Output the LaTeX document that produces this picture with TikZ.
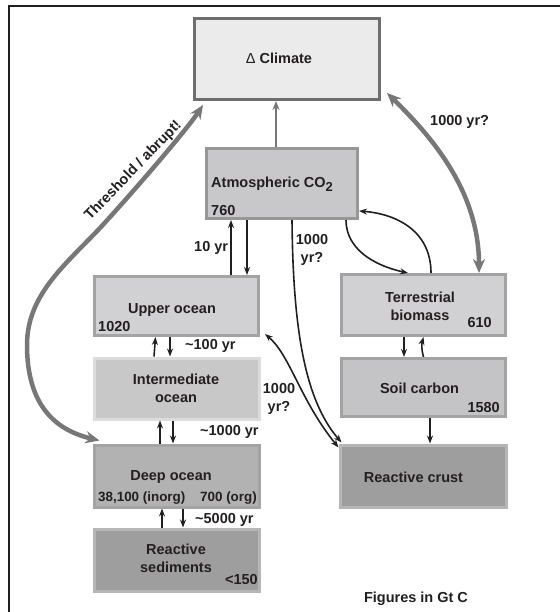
\documentclass[tikz,border=0pt]{standalone}
\usepackage{fontspec}
\setmainfont{Liberation Sans}
\usetikzlibrary{arrows.meta}
\definecolor{ink}{HTML}{231F20}
\definecolor{flowgray}{HTML}{777777}
\definecolor{climfill}{HTML}{EBEBEB}
\definecolor{climdraw}{HTML}{6E6E6E}
\definecolor{atmfill}{HTML}{C8C8CA}
\definecolor{atmdraw}{HTML}{979797}
\definecolor{upfill}{HTML}{D1D1D3}
\definecolor{updraw}{HTML}{A3A3A3}
\definecolor{interfill}{HTML}{C8C8C8}
\definecolor{interdraw}{HTML}{DCDCDC}
\definecolor{deepfill}{HTML}{B2B2B2}
\definecolor{deepdraw}{HTML}{A4A4A4}
\definecolor{soilfill}{HTML}{C4C4C6}
\definecolor{darkfill}{HTML}{9E9E9E}
\definecolor{darkdraw}{HTML}{B6B6B6}
\newcommand{\cotwo}{CO\raisebox{-4pt}{\fontsize{13}{13}\selectfont 2}}

\begin{document}
\begin{tikzpicture}[x=1pt,y=-1pt,>={Stealth[length=8pt,width=6pt]},
    box/.style={draw, line width=3pt, inner sep=0pt},
    lbl/.style={text=ink, font=\bfseries\fontsize{14.5}{18}\selectfont, inner sep=0pt, align=center},
    small/.style={lbl, font=\bfseries\fontsize{13.4}{16}\selectfont},
    flow/.style={draw=ink, line width=1.6pt, ->},
    bigtip/.tip={Stealth[length=14pt,width=12pt]},
    bigflow/.style={draw=flowgray, line width=4.5pt, bigtip-bigtip}]

    \useasboundingbox (0,0) rectangle (559,612);
    \draw[ink, line width=2.5pt] (562,6) -- (9,6) -- (9,615);

    \node[box, draw=climdraw, fill=climfill, minimum width=185pt, minimum height=81pt] (clim) at (287,59) {};
    \node[box, draw=atmdraw, fill=atmfill, minimum width=151pt, minimum height=70pt] (atm) at (282,183.5) {};
    \node[box, draw=updraw, fill=upfill, minimum width=164pt, minimum height=59pt] (upper) at (176.5,306) {};
    \node[box, draw=interdraw, fill=interfill, minimum width=165pt, minimum height=61pt] (inter) at (176.5,388.5) {};
    \node[box, draw=deepdraw, fill=deepfill, minimum width=165pt, minimum height=62pt] (deep) at (176.5,476) {};
    \node[box, draw=darkdraw, fill=darkfill, minimum width=165pt, minimum height=62pt] (sedi) at (176.5,560) {};
    \node[box, draw=updraw, fill=upfill, minimum width=164pt, minimum height=61pt] (terr) at (423.5,305) {};
    \node[box, draw=updraw, fill=soilfill, minimum width=164pt, minimum height=58pt] (soil) at (423.5,387.5) {};
    \node[box, draw=darkdraw, fill=darkfill, minimum width=166pt, minimum height=62pt] (crust) at (423,476) {};

    \node[lbl, anchor=base] (climlbl) at (279,64) {{\mdseries Δ} Climate};
    \node[lbl, anchor=base west] (atmlbl) at (211,188) {Atmospheric \cotwo};
    \node[lbl, anchor=base west] (atmval) at (211,215) {760};
    \node[lbl, anchor=base] (uplbl) at (172,313) {Upper ocean};
    \node[lbl, anchor=base west] (upval) at (98,331) {1020};
    \node[lbl, anchor=base] (interlbl) at (176,402) {Intermediate\\ocean};
    \node[lbl, anchor=base] (deeplbl) at (171,480) {Deep ocean};
    \node[small, anchor=base west] (deepinorg) at (98,501) {38,100 (inorg)};
    \node[small, anchor=base east] (deeporg) at (257,501) {700 (org)};
    \node[lbl, anchor=base] (sedilbl) at (176,572) {Reactive\\sediments};
    \node[lbl, anchor=base east] (sedival) at (258,584) {<150};
    \node[lbl, anchor=base] (terrlbl) at (420,320) {Terrestrial\\biomass};
    \node[lbl, anchor=base east] (terrval) at (492,327) {610};
    \node[lbl, anchor=base] (soillbl) at (419.5,393) {Soil carbon};
    \node[lbl, anchor=base east] (soilval) at (500,412) {1580};
    \node[lbl, anchor=base] (crustlbl) at (413.5,482) {Reactive crust};
    \node[lbl, anchor=base] (units) at (416,602) {Figures in Gt C};

    \node[lbl, anchor=base west] (tenyr) at (194,251) {10 yr};
    \node[lbl, anchor=base west] (hundredyr) at (185,349) {\char`~100 yr};
    \node[lbl, anchor=base west] (thousandyr) at (200,435) {\char`~1000 yr};
    \node[lbl, anchor=base west] (fivethousandyr) at (195,523) {\char`~5000 yr};
    \node[lbl, anchor=base] (landyr) at (312,262) {1000\\yr?};
    \node[lbl, anchor=base] (crustyr) at (279,411) {1000\\yr?};
    \node[lbl, anchor=base west] (climyr) at (430,126) {1000 yr?};
    \node[lbl, anchor=base west, rotate=46] (abrupt) at (90,221) {Threshold / abrupt!};

    \draw[draw=flowgray, line width=2.5pt, -{Stealth[length=9pt,width=7pt]}] ([xshift=-6pt]atm.north) -- ([xshift=-11pt]clim.south);
    \draw[bigflow] ([xshift=7pt,yshift=3pt]deep.north west) .. controls (55,430) and (27,405) .. (27,345)
        .. controls (27,295) and (65,265) .. (100,228) .. controls (135,190) and (188,128) .. ([xshift=10pt,yshift=-4pt]clim.south west);
    \draw[bigflow] ([xshift=6pt,yshift=8pt]clim.south east) .. controls (430,135) and (479,190) .. ([xshift=55.5pt]terr.north);

    \draw[flow] ([xshift=54.5pt]upper.north) -- ([xshift=-51pt]atm.south);
    \draw[flow] ([xshift=-35pt]atm.south) -- ([xshift=70.5pt]upper.north);
    \draw[flow] ([xshift=-22.5pt]inter.north) -- ([xshift=-21pt]upper.south);
    \draw[flow] ([xshift=-6.5pt]upper.south) -- ([xshift=-6.5pt]inter.north);
    \draw[flow] ([xshift=-16.5pt]deep.north) -- ([xshift=-16.5pt]inter.south);
    \draw[flow] ([xshift=-3.5pt]inter.south) -- ([xshift=-3.5pt]deep.north);
    \draw[flow] ([xshift=-14.5pt]sedi.north) -- ([xshift=-14.5pt]deep.south);
    \draw[flow] ([xshift=6.5pt]deep.south) -- ([xshift=6.5pt]sedi.north);

    \draw[flow] ([xshift=-19.5pt]terr.south) -- ([xshift=-19.5pt]soil.north);
    \draw[flow] (soil.north) to[bend left=15] (terr.south);
    \draw[flow] ([xshift=6.5pt]soil.south) -- ([xshift=7pt]crust.north);

    \draw[flow] ([xshift=64pt]atm.south) .. controls (346,248) and (372,265) .. ([xshift=-15.5pt]terr.north);
    \draw[flow] ([xshift=7.5pt]terr.north) .. controls (431,232) and (398,214) .. ([yshift=9pt]atm.south east);
    \draw[flow] ([xshift=10pt]atm.south) .. controls (293,330) and (305,400) .. ([xshift=3pt,yshift=1pt]crust.north west);
    \draw[flow, <->] ([xshift=5pt,yshift=3pt]upper.south east) .. controls (290,355) and (300,400) .. ([yshift=-4pt]crust.north west);

\end{tikzpicture}
\end{document}
